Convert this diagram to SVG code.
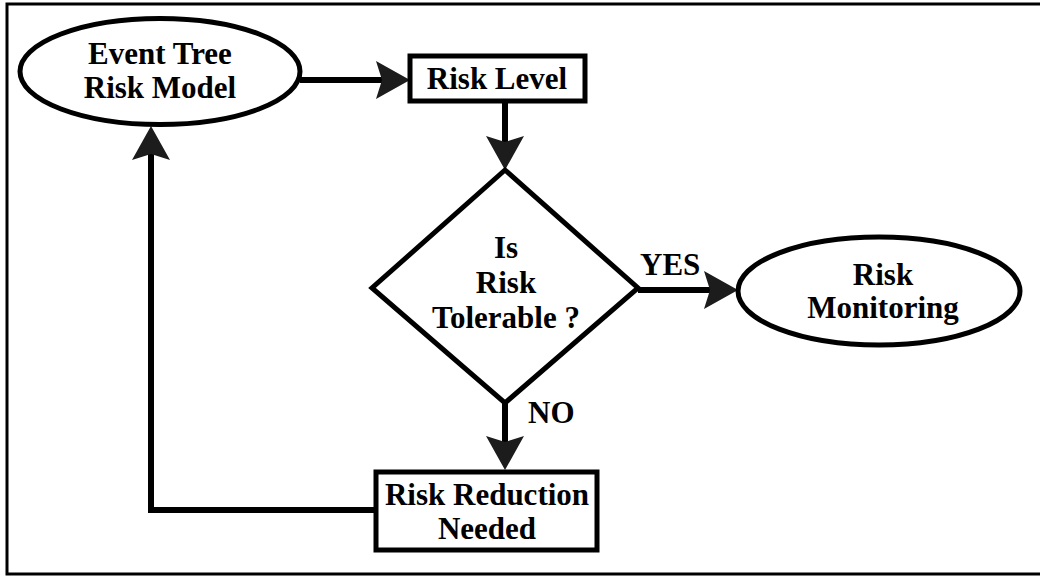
<svg xmlns="http://www.w3.org/2000/svg" width="1040" height="576" viewBox="0 0 1040 576">
  <style>
    .shape { fill: #ffffff; stroke: #000000; stroke-width: 5; }
    .conn { fill: none; stroke: #000000; stroke-width: 6; stroke-linejoin: miter; }
    .lbl { font-family: "Liberation Serif", "Times New Roman", serif; font-weight: bold; font-size: 31px; fill: #000000; text-anchor: middle; }
    .frame { fill: none; stroke: #000000; stroke-width: 3; }
  </style>
  <defs>
    <marker id="arrow" markerUnits="userSpaceOnUse" viewBox="0 0 34 38" refX="6" refY="19" markerWidth="34" markerHeight="38" orient="auto" overflow="visible">
      <path d="M0,0 L34,19 L0,38 L6,19 Z" fill="#1c1c1c"/>
    </marker>
  </defs>
  <rect class="frame" x="7" y="4" width="1040" height="570"/>

  <g id="connectors">
    <line class="conn" x1="300" y1="80" x2="382" y2="80" marker-end="url(#arrow)"/>
    <line class="conn" x1="505" y1="101" x2="505" y2="142" marker-end="url(#arrow)"/>
    <line class="conn" x1="638" y1="290" x2="710" y2="290" marker-end="url(#arrow)"/>
    <line class="conn" x1="505" y1="403" x2="505" y2="442" marker-end="url(#arrow)"/>
    <polyline class="conn" points="376,510 151,510 151,154" marker-end="url(#arrow)"/>
    <text class="lbl" x="640" y="275" style="text-anchor:start">YES</text>
    <text class="lbl" x="528" y="423" style="text-anchor:start">NO</text>
  </g>

  <g id="event-tree-risk-model">
    <ellipse class="shape" cx="160" cy="71.5" rx="140" ry="53"/>
    <text class="lbl" x="160" y="64">Event Tree</text>
    <text class="lbl" x="160" y="98">Risk Model</text>
  </g>

  <g id="risk-level">
    <rect class="shape" x="410" y="56" width="175" height="45"/>
    <text class="lbl" x="497" y="89">Risk Level</text>
  </g>

  <g id="is-risk-tolerable">
    <polygon class="shape" points="505,170 638,288 505,403 372,288"/>
    <text class="lbl" x="506" y="258">Is</text>
    <text class="lbl" x="506" y="293">Risk</text>
    <text class="lbl" x="506" y="328">Tolerable ?</text>
  </g>

  <g id="risk-monitoring">
    <ellipse class="shape" cx="879" cy="291" rx="141" ry="54"/>
    <text class="lbl" x="883" y="285">Risk</text>
    <text class="lbl" x="883" y="318">Monitoring</text>
  </g>

  <g id="risk-reduction-needed">
    <rect class="shape" x="376" y="472" width="221" height="78"/>
    <text class="lbl" x="487" y="505">Risk Reduction</text>
    <text class="lbl" x="487" y="539">Needed</text>
  </g>
</svg>
